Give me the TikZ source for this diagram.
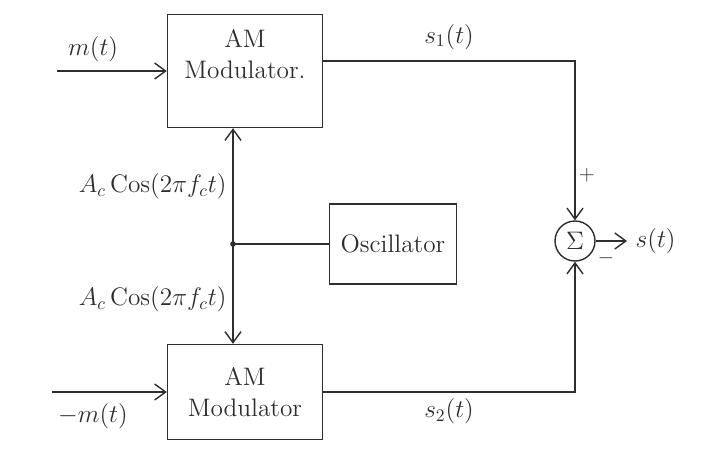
\documentclass[tikz,border=0pt]{standalone}
\usetikzlibrary{arrows.meta, positioning, calc}
\usepackage{amsmath}
\definecolor{ink}{HTML}{2E2E2E}

\begin{document}
\begin{tikzpicture}[x=0.02cm, y=-0.02cm,
  modbox/.style={
    draw=ink, thick, minimum width=3.1cm,
    align=center, font=\Large, text=ink
  },
  oscbox/.style={
    draw=ink, thick, minimum width=2.54cm, minimum height=1.6cm,
    font=\Large, text=ink
  },
  sumnode/.style={
    draw=ink, thick, circle, minimum size=0.8cm, inner sep=0pt,
    font=\Large, text=ink
  },
  sig/.style={font=\Large, text=ink},
  wire/.style={draw=ink, thick},
  warr/.style={wire, -{Straight Barb[length=2.2mm, width=3.2mm]}},
]
\useasboundingbox (0,0) rectangle (711,451);

% blocks
\node[modbox, minimum height=2.26cm] (mod1) at (245,71)
  {AM\\Modulator.\\[0.1em]\mbox{}};
\node[modbox, minimum height=1.9cm]  (mod2) at (245,392) {AM\\Modulator};
\node[oscbox]  (osc) at (393,244) {Oscillator};
\node[sumnode] (sum) at (575,241) {$\Sigma$};

% carrier split
\coordinate (junc) at (233,244);
\fill[ink] (junc) circle (1.6pt);
\draw[wire] (osc.west) -- (junc);
\draw[warr] (junc) -- node[sig, left, pos=0.5] {$A_c\,\mathrm{Cos}(2\pi f_c t)$}
  (junc |- mod1.south);
\draw[warr] (junc) -- node[sig, left, pos=0.55] {$A_c\,\mathrm{Cos}(2\pi f_c t)$}
  (junc |- mod2.north);

% message inputs
\coordinate (in1) at (57,71);
\coordinate (in2) at (52,392);
\draw[warr] (in1) -- (mod1.west);
\node[sig, above right=0.05cm and 0.1cm of in1] (m1) {$m(t)$};
\draw[warr] (in2) -- (mod2.west);
\node[sig, below right=0.1cm and 0cm of in2] (m2) {$-m(t)$};

% modulated signals to the adder
\coordinate (c1) at ([yshift=0.2cm]mod1.east);
\draw[warr] (c1) -- node[sig, above=0.1cm, pos=0.5] {$s_1(t)$} (c1 -| sum)
  -- (sum.north);
\draw[warr] (mod2.east) -- node[sig, below, pos=0.5] {$s_2(t)$}
  (mod2.east -| sum) -- (sum.south);
\node[sig, font=\large] (plus)  at ($(sum)+(12,-66)$) {$+$};
\node[sig, font=\large] (minus) at ($(sum)+(31,17)$)  {$-$};

% output
\coordinate (out) at (627,241);
\draw[warr] (sum.east) -- (out);
\node[sig, right=0.05cm of out] (st) {$s(t)$};
\end{tikzpicture}
\end{document}
